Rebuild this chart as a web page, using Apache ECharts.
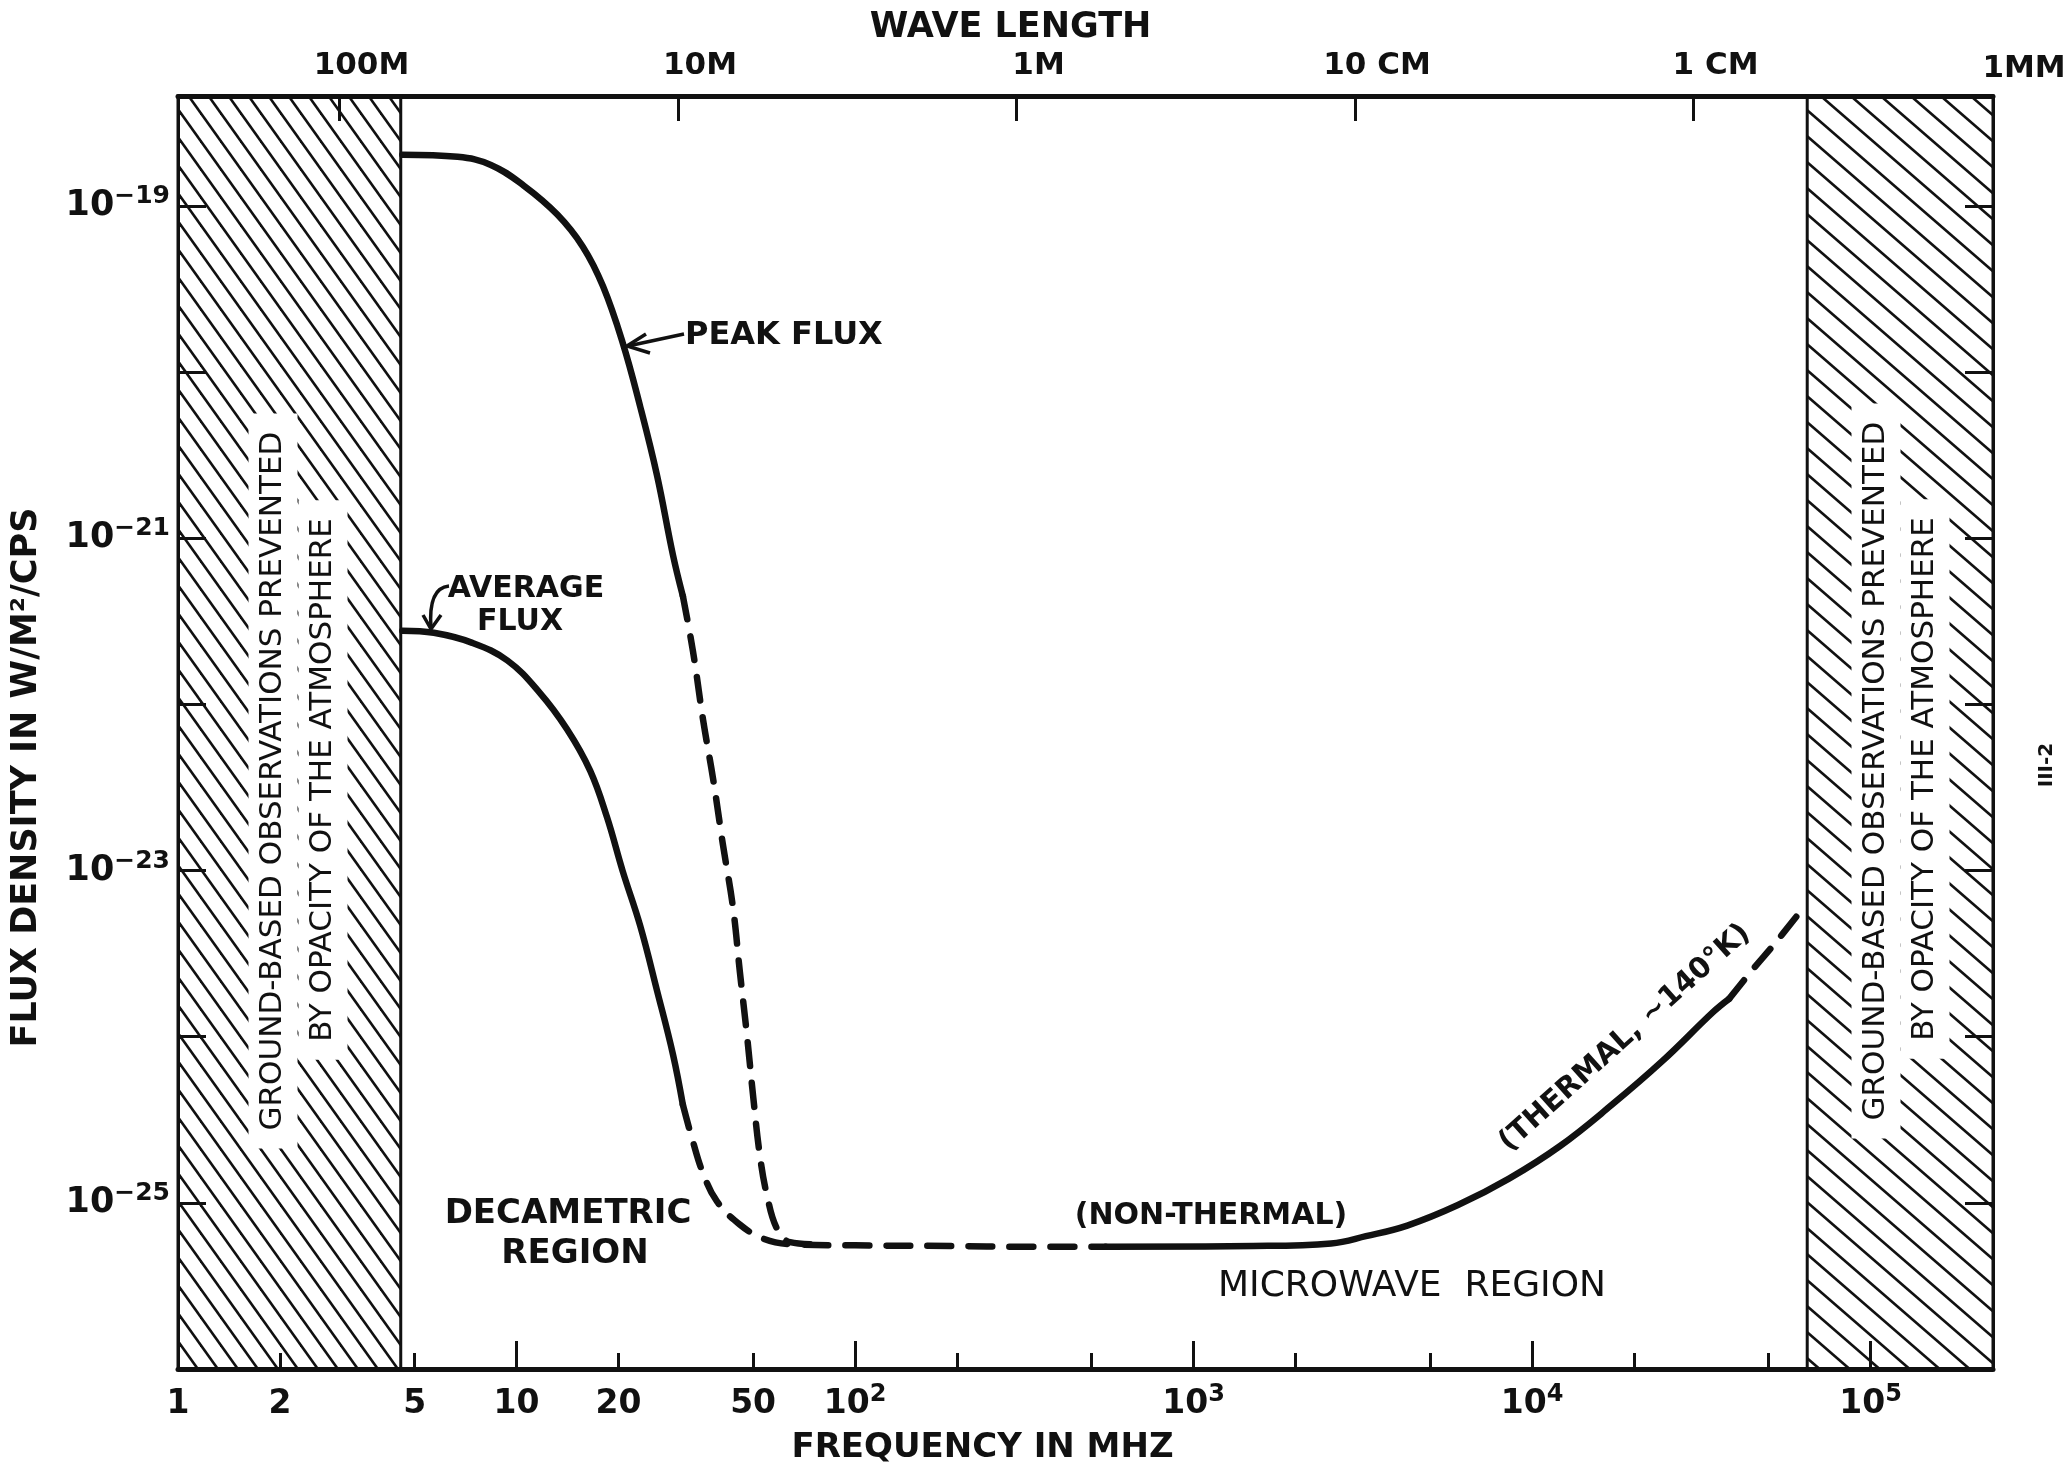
<!DOCTYPE html>
<html>
<head>
<meta charset="utf-8">
<title>Solar radio flux density</title>
<script src="https://cdn.jsdelivr.net/npm/echarts@6/dist/echarts.min.js"></script>
<style>
  html, body { margin: 0; padding: 0; background: #fff; }
  #chart { width: 2067px; height: 1470px; }
</style>
</head>
<body>
<div id="chart"></div>
<script>
// frequency axis, MHz
const freqMin = 1;
const freqMax = 230000;
const freqMajorTicks = [10, 100, 1000, 10000, 100000];
const freqMinorTicks = [2, 5, 20, 50, 200, 500, 2000, 5000, 20000, 50000];
const freqLabelValues = [1, 2, 5, 10, 20, 50, 100, 1000, 10000, 100000];
const freqLabelText = ['1', '2', '5', '10', '20', '50', '10^2', '10^3', '10^4', '10^5'];

// wavelength marks on the top axis, placed at their frequency (MHz)
const waveTickFreqs = [3, 30, 300, 3000, 30000];
const waveTickText = ['100M', '10M', '1M', '10 CM', '1 CM'];
const waveEndFreq = 300000;
const waveEndText = '1MM';

// flux density axis, W/m²/cps
const fluxMin = 1e-26;
const fluxMax = 4.6e-19;
const fluxTicks = [1e-25, 1e-24, 1e-23, 1e-22, 1e-21, 1e-20, 1e-19];
const fluxLabelValues = [1e-25, 1e-23, 1e-21, 1e-19];
const fluxLabelText = ['10^−25', '10^−23', '10^−21', '10^−19'];

// bands where the atmosphere blocks ground observations (MHz)
const blockedLow = [1, 4.55];
const blockedHigh = [65000, 230000];

// peak flux
const peakSolidFreq = [4.6, 6.7, 8.4, 10.5, 13.2, 15.7, 18.0, 20.6, 23.2, 26.0, 29.0, 31.0];
const peakSolidFlux = [2.04e-19, 1.98e-19, 1.77e-19, 1.33e-19, 8.9e-20, 5.7e-20, 3.3e-20, 1.5e-20, 6.2e-21, 2.4e-21, 7.9e-22, 4.5e-22];
const peakDashFreq = [31.0, 33.2, 35.6, 38.1, 40.7, 43.6, 45.7, 48.0, 50.0, 52.4, 55.0, 58.8, 64.3, 80];
const peakDashFlux = [4.5e-22, 2.1e-22, 8.0e-23, 3.55e-23, 1.44e-23, 6.0e-24, 2.45e-24, 1.0e-24, 4.4e-25, 1.9e-25, 1.1e-25, 7.0e-26, 5.8e-26, 5.6e-26];

// average flux, running into the quiet (non-thermal) level
const avgSolidFreq = [4.6, 5.7, 7.4, 9.4, 11.7, 14.1, 16.5, 18.5, 20.6, 23.2, 26.0, 29.0, 31.0];
const avgSolidFlux = [2.78e-22, 2.7e-22, 2.35e-22, 1.84e-22, 1.18e-22, 7.1e-23, 4.0e-23, 2.1e-23, 9.9e-24, 4.65e-24, 1.9e-24, 7.8e-25, 3.9e-25];
const avgDashFreq = [31.0, 33.2, 35.6, 39.1, 45.7, 53.5, 64.3, 100, 200, 300, 550];
const avgDashFlux = [3.9e-25, 2.34e-25, 1.5e-25, 1.02e-25, 7.4e-26, 6.1e-26, 5.65e-26, 5.55e-26, 5.5e-26, 5.45e-26, 5.45e-26];

// thermal rise in the microwave region
const thermSolidFreq = [550, 1500, 2550, 3230, 4280, 6040, 8550, 12100, 17100, 24200, 34300, 38200];
const thermSolidFlux = [5.45e-26, 5.5e-26, 5.7e-26, 6.3e-26, 7.3e-26, 9.7e-26, 1.4e-25, 2.2e-25, 3.85e-25, 7.1e-25, 1.41e-24, 1.69e-24];
const thermDashFreq = [38200, 45300, 51900, 61900];
const thermDashFlux = [1.69e-24, 2.6e-24, 3.6e-24, 5.64e-24];

const lg = v => Math.log10(v);
const toPts = (f, s) => f.map((v, i) => [lg(v), lg(s[i])]);
// "10^2" -> base + raised exponent
const richText = s => {
  const [b, e] = s.split('^');
  return e ? `{b|${b}}{s|${e}}` : `{b|${b}}`;
};
const labelAt = (vals, texts) => v => {
  const i = vals.findIndex(x => Math.abs(lg(x) - v) < 1e-6);
  return i < 0 ? '' : richText(texts[i]);
};

const INK = '#111';
const FONT = "'DejaVu Sans', 'Liberation Sans', sans-serif";

function hatch(p, h, lw) {
  const c = document.createElement('canvas');
  c.width = p;
  c.height = h;
  const g = c.getContext('2d');
  g.strokeStyle = INK;
  g.lineWidth = lw;
  for (let k = -1; k <= 1; k++) {
    g.beginPath();
    g.moveTo(k * p - p, -h);
    g.lineTo(k * p + 2 * p, 2 * h);
    g.stroke();
  }
  return c;
}

function supRich(base, sup, lh) {
  return {
    b: { fontFamily: FONT, fontWeight: 'bold', fontSize: base, lineHeight: lh, color: INK },
    s: { fontFamily: FONT, fontWeight: 'bold', fontSize: sup, lineHeight: Math.round(sup * 0.8), verticalAlign: 'top', color: INK }
  };
}

const chart = echarts.init(document.getElementById('chart'));

const X0 = lg(freqMin), X1 = lg(freqMax), Y0 = lg(fluxMin), Y1 = lg(fluxMax);
const solid = { type: 'solid', width: 6.5, color: INK, cap: 'round', join: 'round' };
const dashed = { type: [24, 17], width: 6.5, color: INK, cap: 'round', join: 'round' };

function curve(name, f, s, style) {
  return {
    name, type: 'line', data: toPts(f, s), showSymbol: false, smooth: 0.4,
    lineStyle: style, silent: true, z: 3
  };
}

const nameFont = { color: INK, fontFamily: FONT, fontWeight: 'bold' };

const option = {
  animation: false,
  backgroundColor: '#fff',
  grid: { left: 178, right: 74, top: 96, bottom: 99 },
  xAxis: [
    {
      type: 'value', position: 'bottom', min: X0, max: X1,
      axisLine: { onZero: false, lineStyle: { color: INK, width: 5 } },
      axisTick: { inside: true, length: 28, lineStyle: { color: INK, width: 3 }, customValues: freqMajorTicks.map(lg) },
      axisLabel: {
        customValues: freqLabelValues.map(lg), formatter: labelAt(freqLabelValues, freqLabelText),
        margin: 14, rich: supRich(33, 24, 42)
      },
      splitLine: { show: false },
      name: 'FREQUENCY IN MHZ', nameLocation: 'middle', nameGap: 62,
      nameTextStyle: { ...nameFont, fontSize: 34, padding: [0, 206, 0, 0] }
    },
    {
      type: 'value', position: 'bottom', min: X0, max: X1,
      axisLine: { show: false },
      axisTick: { inside: true, length: 16, lineStyle: { color: INK, width: 3 }, customValues: freqMinorTicks.map(lg) },
      axisLabel: { show: false },
      splitLine: { show: false }
    },
    {
      type: 'value', position: 'top', min: X0, max: X1,
      axisLine: { onZero: false, lineStyle: { color: INK, width: 5 } },
      axisTick: { inside: true, length: 25, lineStyle: { color: INK, width: 3 }, customValues: waveTickFreqs.map(lg) },
      axisLabel: {
        customValues: waveTickFreqs.map(lg), formatter: labelAt(waveTickFreqs, waveTickText),
        margin: 11, padding: [0, 0, 0, 44], rich: supRich(31, 20, 38)
      },
      splitLine: { show: false },
      name: 'WAVE LENGTH', nameLocation: 'middle', nameGap: 50,
      nameTextStyle: { ...nameFont, fontSize: 35, padding: [0, 150, 0, 0] }
    }
  ],
  yAxis: [
    {
      type: 'value', position: 'left', min: Y0, max: Y1,
      axisLine: { onZero: false, lineStyle: { color: INK, width: 3 } },
      axisTick: { inside: true, length: 28, lineStyle: { color: INK, width: 3 }, customValues: fluxTicks.map(lg) },
      axisLabel: {
        customValues: fluxLabelValues.map(lg), formatter: labelAt(fluxLabelValues, fluxLabelText),
        margin: 8, rich: supRich(35, 25, 44)
      },
      splitLine: { show: false },
      name: 'FLUX DENSITY IN W/M²/CPS', nameLocation: 'middle', nameGap: 134, nameRotate: 90,
      nameTextStyle: { ...nameFont, fontSize: 35, padding: [0, 90, 0, 0] }
    },
    {
      type: 'value', position: 'right', min: Y0, max: Y1,
      axisLine: { onZero: false, lineStyle: { color: INK, width: 3 } },
      axisTick: { inside: true, length: 28, lineStyle: { color: INK, width: 3 }, customValues: fluxTicks.map(lg) },
      axisLabel: { show: false },
      splitLine: { show: false }
    }
  ],
  series: [
    {
      ...curve('Peak flux', peakSolidFreq, peakSolidFlux, solid),
      markArea: {
        silent: true,
        data: [
          [{ xAxis: lg(blockedLow[0]), itemStyle: { color: { image: hatch(20, 28, 2.6), repeat: 'repeat' }, borderColor: INK, borderWidth: 3 } },
           { xAxis: lg(blockedLow[1]) }],
          [{ xAxis: lg(blockedHigh[0]), itemStyle: { color: { image: hatch(30, 26, 2.6), repeat: 'repeat' }, borderColor: INK, borderWidth: 3 } },
           { xAxis: lg(blockedHigh[1]) }]
        ]
      }
    },
    curve('Peak flux (extrapolated)', peakDashFreq, peakDashFlux, dashed),
    curve('Average flux', avgSolidFreq, avgSolidFlux, solid),
    curve('Average flux (extrapolated)', avgDashFreq, avgDashFlux, dashed),
    curve('Thermal', thermSolidFreq, thermSolidFlux, solid),
    curve('Thermal (extrapolated)', thermDashFreq, thermDashFlux, dashed)
  ]
};

chart.setOption(option);

// annotations
const txt = (x, y, text, size, extra) => ({
  type: 'text', x, y, z: 100, rotation: (extra && extra.rotation) || 0,
  style: Object.assign({
    text, fill: INK, font: `bold ${size}px ${FONT}`, align: 'center', verticalAlign: 'middle'
  }, (extra && extra.style) || {})
});
const blockedStyle = { font: `31px ${FONT}`, backgroundColor: '#fff', padding: [9, 18] };
const up = Math.PI / 2;
const endX = chart.convertToPixel({ xAxisIndex: 2 }, lg(waveEndFreq));
const line = (points, w) => ({ type: 'polyline', z: 100, shape: { points }, style: { stroke: INK, lineWidth: w, fill: null } });

chart.setOption({
  graphic: [
    txt(endX - 8, 69, waveEndText, 31),
    txt(685, 336, 'PEAK FLUX', 32, { style: { align: 'left' } }),
    line([[684, 334], [628, 346]], 3.5),
    line([[646, 334], [627, 346], [650, 353]], 3.5),
    txt(526, 589, 'AVERAGE', 30),
    txt(520, 622, 'FLUX', 30),
    { type: 'bezierCurve', z: 100, shape: { x1: 449, y1: 586, cpx1: 428, cpy1: 588, x2: 431, y2: 628 }, style: { stroke: INK, lineWidth: 3.5, fill: null } },
    line([[423, 615], [431, 629], [441, 615]], 3.5),
    txt(568, 1214, 'DECAMETRIC', 34),
    txt(575, 1254, 'REGION', 34),
    txt(1211, 1216, '(NON-THERMAL)', 30),
    txt(1412, 1287, 'MICROWAVE  REGION', 36, { style: { font: `36px ${FONT}` } }),
    txt(1625, 1038, '(THERMAL, ∼140°K)', 29, { rotation: 0.73 }),
    txt(273, 781, 'GROUND-BASED OBSERVATIONS PREVENTED', 31, { rotation: up, style: blockedStyle }),
    txt(323, 780, 'BY OPACITY OF THE ATMOSPHERE', 31, { rotation: up, style: blockedStyle }),
    txt(1876, 771, 'GROUND-BASED OBSERVATIONS PREVENTED', 31, { rotation: up, style: blockedStyle }),
    txt(1925, 779, 'BY OPACITY OF THE ATMOSPHERE', 31, { rotation: up, style: blockedStyle }),
    txt(2047, 765, 'III-2', 20, { rotation: up })
  ]
});

window.addEventListener('resize', () => chart.resize());
</script>
</body>
</html>
